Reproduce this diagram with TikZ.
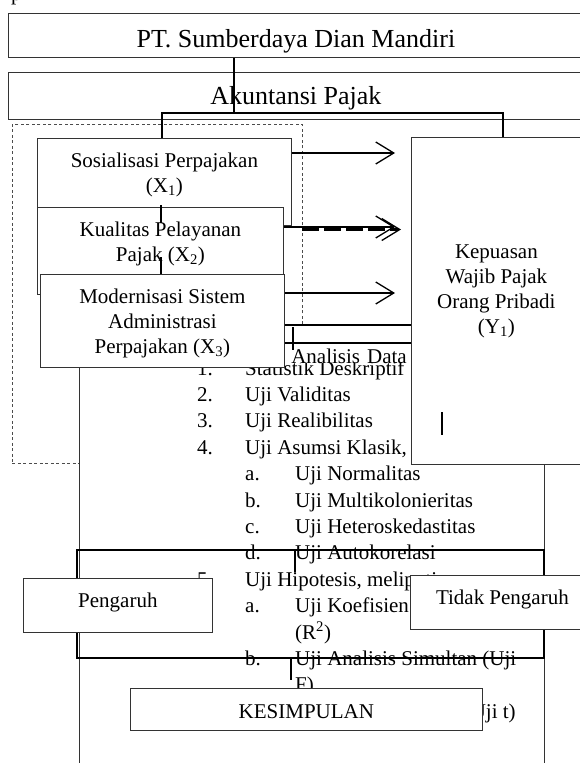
\documentclass[tikz,border=0pt]{standalone}
\usepackage{fontspec}
\setmainfont{Liberation Serif}
\usetikzlibrary{arrows.meta}

\tikzset{
  box/.style={draw=black!80, line width=0.8pt, fill=white, inner sep=0pt, anchor=north west},
  lbl/.style={font=\fontsize{21}{25}\selectfont, align=center, inner sep=0pt},
  biglbl/.style={font=\fontsize{26}{30}\selectfont, inner sep=0pt},
  link/.style={line width=1.8pt},
  arr/.style={line width=1.3pt, -{Straight Barb[length=18pt,width=22pt,line width'=1.3pt]}},
}

\begin{document}
\begin{tikzpicture}[x=1pt, y=-1pt]
  \useasboundingbox (0,0) rectangle (579,763);
  \node[lbl, anchor=base west] (pcut) at (11,0.5) {p};

  % top boxes
  \node[box, minimum width=575pt, minimum height=44pt] (pt) at (8,13) {};
  \node[biglbl, yshift=-6pt] (ptt) at (pt.center) {PT. Sumberdaya Dian Mandiri};
  \node[box, minimum width=575pt, minimum height=47pt] (ak) at (8,72) {};
  \node[biglbl, yshift=-2.5pt] (akt) at (ak.center) {Akuntansi Pajak};

  \node[box, draw=black!70, line width=0.6pt, dash pattern=on 3pt off 2.5pt, fill=none,
        minimum width=290pt, minimum height=339pt] (frame) at (12,124) {};

  % analysis box
  \node[box, minimum width=465pt, minimum height=460pt] (ana) at (79,325) {};
  \node[anchor=base west, inner sep=0pt, font=\fontsize{21}{26.4}\selectfont] (list) at (197,375) {%
    \begin{tabular}[t]{@{}p{48pt}@{}p{50pt}@{}l@{}}
      1. & \multicolumn{2}{@{}l}{Statistik Deskriptif}\\
      2. & \multicolumn{2}{@{}l}{Uji Validitas}\\
      3. & \multicolumn{2}{@{}l}{Uji Realibilitas}\\
      4. & \multicolumn{2}{@{}l}{Uji Asumsi Klasik, meliputi:}\\
         & a. & Uji Normalitas\\
         & b. & Uji Multikolonieritas\\
         & c. & Uji Heteroskedastitas\\
         & d. & Uji Autokorelasi\\
      5. & \multicolumn{2}{@{}l}{Uji Hipotesis, meliputi:}\\
         & a. & Uji Koefisien Determinasi\\
         &    & (R\textsuperscript{2})\\
         & b. & Uji Analisis Simultan (Uji\\
         &    & F)\\
         & c. & Uji Analisis Parsial (Uji t)
    \end{tabular}};
  \node[fill=white, inner sep=0pt, text height=19pt, text depth=0pt, text width=217pt,
        align=right, anchor=base east, font=\fontsize{21}{25}\selectfont] (hdr) at (407,363) {Analisis Data};

  % variables
  \node[box, minimum width=254pt, minimum height=87pt] (soc) at (37,138) {};
  \node[lbl, yshift=7pt] (soct) at (soc.center) {Sosialisasi Perpajakan\\(X\textsubscript{1})};
  \node[box, minimum width=246pt, minimum height=87pt] (kual) at (37,207) {};
  \node[lbl, yshift=7pt] (kualt) at (kual.center) {Kualitas Pelayanan\\Pajak (X\textsubscript{2})};
  \coordinate (s1a) at (161,205);
  \coordinate (s1b) at (161,223);
  \draw[link] (s1a) -- (s1b);
  \node[box, minimum width=244pt, minimum height=93pt] (mod) at (40,274) {};
  \coordinate (s2) at (161,257);
  \draw[link] (s2) -- (mod.north -| s2);
  \node[lbl, yshift=-2.5pt] (modt) at (mod.center) {Modernisasi Sistem\\Administrasi\\Perpajakan (X\textsubscript{3})};

  \node[box, minimum width=170pt, minimum height=327pt] (kep) at (411,137) {};
  \node[lbl, yshift=10pt] (kept) at (kep.center) {Kepuasan\\Wajib Pajak\\Orang Pribadi\\(Y\textsubscript{1})};
  \coordinate (s3a) at (442,412);
  \coordinate (s3b) at (442,435);
  \draw[link] (s3a) -- (s3b);

  \coordinate (h1) at (300,325);
  \coordinate (h2) at (300,343);
  \draw[link] (mod.east |- h1) -- (kep.west |- h1);
  \draw[link] (mod.east |- h2) -- (kep.west |- h2);
  \coordinate (s4a) at (293,327);
  \coordinate (s4b) at (293,350);
  \draw[link] (s4a) -- (s4b);

  % connectors on top
  \coordinate (jm) at (234,113);
  \coordinate (jl) at (162,113);
  \coordinate (jr) at (503,113);
  \draw[link] (pt.south -| jm) -- (jm);
  \draw[link] (soc.north -| jl) -- (jl) -- (jr) -- (kep.north -| jr);

  % arrows
  \coordinate (a1) at (395,153);
  \coordinate (a2) at (395,227);
  \coordinate (a3) at (395,293);
  \coordinate (d2a) at (302,229.5);
  \coordinate (d2b) at (401,229.5);
  \draw[arr] (soc.east |- a1) -- (a1);
  \draw[arr] (kual.east |- a2) -- (a2);
  \draw[arr, line width=2.2pt, dash pattern=on 17pt off 5pt] (d2a) -- (d2b);
  \draw[arr] (mod.east |- a3) -- (a3);

  % result boxes
  \node[box, minimum width=189pt, minimum height=54pt] (pg) at (23,578) {};
  \node[lbl, yshift=3pt] (pgt) at (pg.center) {Pengaruh};
  \node[box, minimum width=184pt, minimum height=54pt] (tp) at (410,575) {};
  \node[lbl, yshift=3pt] (tpt) at (tp.center) {Tidak Pengaruh};

  \coordinate (l5) at (77,550);
  \coordinate (r5) at (544,550);
  \coordinate (t5) at (295,572);
  \draw[link] (pg.north -| l5) -- (l5) -- (r5) -- (tp.north -| r5);
  \draw[link] (t5 |- l5) -- (t5);
  \coordinate (l6) at (77,658);
  \coordinate (r6) at (544,658);
  \coordinate (t6) at (291,680);
  \draw[link] (pg.south -| l6) -- (l6) -- (r6) -- (tp.south -| r6);
  \draw[link] (t6 |- l6) -- (t6);

  \node[box, minimum width=352pt, minimum height=42pt] (kes) at (130,688) {};
  \node[lbl, yshift=-2pt] (kest) at (kes.center) {KESIMPULAN};
\end{tikzpicture}
\end{document}
